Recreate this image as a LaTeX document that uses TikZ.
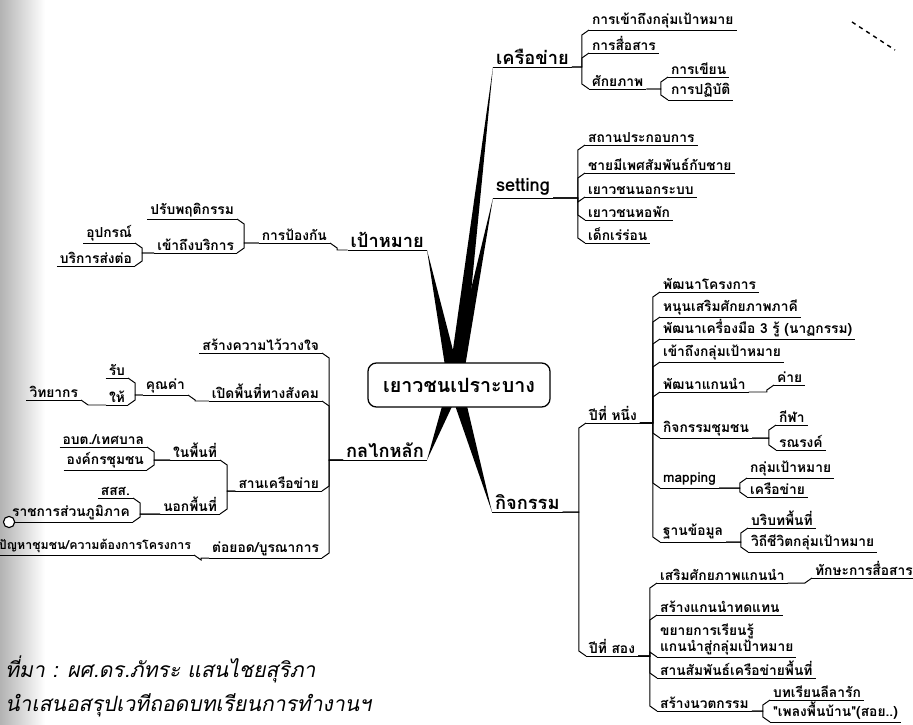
\documentclass[tikz,border=0pt]{standalone}
\usepackage{fontspec}
\newfontfamily\thai[Script=Thai]{Loma}
\newfontfamily\thaisl[Script=Thai,FakeSlant=0.2]{Loma}
\usetikzlibrary{calc}

\tikzset{
  ul/.style={draw,line width=0.7pt},
  lbl/.style={anchor=south west,inner xsep=2pt,inner ysep=1.5pt,
    font=\thai\bfseries\fontsize{9.8}{11}\selectfont,
    append after command={\pgfextra{\let\ulnode\tikzlastnode}
      (\ulnode.south west) edge[ul] (\ulnode.south east)}},
  lbll/.style={lbl,anchor=south east},
  main/.style={lbl,font=\thai\bfseries\fontsize{13}{15}\selectfont},
  mainl/.style={main,anchor=south east},
  spike/.style={fill=black},
  rootbox/.style={draw,line width=0.9pt,rounded corners=6pt,fill=white,
    minimum width=4.55cm,minimum height=1.1cm,
    font=\thai\bfseries\fontsize{14}{16}\selectfont},
  fold/.style={draw,circle,line width=0.8pt,inner sep=0pt,minimum size=8pt,fill=white,
    path picture={\fill (path picture bounding box.center) circle (1.2pt);}},
  link/.style={line width=0.7pt},
  caption/.style={anchor=base west,inner sep=0pt,font=\thaisl\fontsize{15}{17}\selectfont},
}

% right: parent end -> child start, left: parent start -> child end
\newcommand\linkr[2]{\draw[link] let \p1=(#1.south east), \p2=(#2.south west),
  \n1={sign(\y2-\y1)} in (\p1) -- (\x2-5pt,\y1) -- (\x2-5pt,\y2-3.5pt*\n1) -- (\p2);}
\newcommand\linkl[2]{\draw[link] let \p1=(#1.south west), \p2=(#2.south east),
  \n1={sign(\y2-\y1)} in (\p1) -- (\x2+5pt,\y1) -- (\x2+5pt,\y2-3.5pt*\n1) -- (\p2);}

\begin{document}
\begin{tikzpicture}[x=0.025cm,y=-0.025cm]
  \useasboundingbox (0,0) rectangle (913,724);
  \clip (0,0) rectangle (913,724);
  \shade[left color=black!30,right color=white] (0,0) rectangle (45,724);

  \coordinate (hub) at (455,385);

  % main branches
  \node[main](kruea) at(493,67) {เครือข่าย};
  \node[main](setg)  at(493,198) {setting};
  \node[main](act)   at(492,512) {กิจกรรม};
  \node[mainl](goal) at(427,250) {เป้าหมาย};
  \node[mainl](mech) at(427,460) {กลไกหลัก};

  % เครือข่าย
  \node[lbl](k1)  at(589,30)  {การเข้าถึงกลุ่มเป้าหมาย};
  \node[lbl](k2)  at(589,53)  {การสื่อสาร};
  \node[lbl](k3)  at(589,89)  {ศักยภาพ};
  \node[lbl](k31) at(668,77)  {การเขียน};
  \node[lbl](k32) at(668,100) {การปฏิบัติ};

  % setting
  \node[lbl](s1) at(585,145) {สถานประกอบการ};
  \node[lbl](s2) at(585,173) {ชายมีเพศสัมพันธ์กับชาย};
  \node[lbl](s3) at(585,197) {เยาวชนนอกระบบ};
  \node[lbl](s4) at(585,220) {เยาวชนหอพัก};
  \node[lbl](s5) at(585,243) {เด็กเร่ร่อน};

  % กิจกรรม
  \node[lbl](yr1) at(586,423) {ปีที่ หนึ่ง};
  \node[lbl](yr2) at(586,656) {ปีที่ สอง};

  \node[lbl](a1)  at(660,292) {พัฒนาโครงการ};
  \node[lbl](a2)  at(660,317) {หนุนเสริมศักยภาพภาคี};
  \node[lbl](a3)  at(660,339) {พัฒนาเครื่องมือ 3 รู้ (นาฏกรรม)};
  \node[lbl](a4)  at(660,362) {เข้าถึงกลุ่มเป้าหมาย};
  \node[lbl](a5)  at(660,392) {พัฒนาแกนนำ};
  \node[lbl](a51) at(774,385) {ค่าย};
  \node[lbl](a6)  at(660,438) {กิจกรรมชุมชน};
  \node[lbl](a61) at(776,425) {กีฬา};
  \node[lbl](a62) at(776,450) {รณรงค์};
  \node[lbl](a7)  at(660,488) {mapping};
  \node[lbl](a71) at(747,478) {กลุ่มเป้าหมาย};
  \node[lbl](a72) at(747,497) {เครือข่าย};
  \node[lbl](a8)  at(660,542) {ฐานข้อมูล};
  \node[lbl](a81) at(748,528) {บริบทพื้นที่};
  \node[lbl](a82) at(748,552) {วิถีชีวิตกลุ่มเป้าหมาย};

  \node[lbl](b1)  at(657,583) {เสริมศักยภาพแกนนำ};
  \node[lbl](b11) at(812,578) {ทักษะการสื่อสาร};
  \node[lbl](b2)  at(657,615) {สร้างแกนนำทดแทน};
  \node[lbl,align=left](b3) at(657,657) {ขยายการเรียนรู้\\แกนนำสู่กลุ่มเป้าหมาย};
  \node[lbl](b4)  at(657,678) {สานสัมพันธ์เครือข่ายพื้นที่};
  \node[lbl](b5)  at(657,711) {สร้างนวตกรรม};
  \node[lbl](b51) at(770,700) {บทเรียนลีลารัก};
  \node[lbl](b52) at(770,722) {"เพลงพื้นบ้าน"(สอย..)};

  % เป้าหมาย
  \node[lbll](g1)   at(330,243) {การป้องกัน};
  \node[lbll](g11)  at(237,219) {ปรับพฤติกรรม};
  \node[lbll](g12)  at(237,253) {เข้าถึงบริการ};
  \node[lbll](g121) at(135,243) {อุปกรณ์};
  \node[lbll](g122) at(135,266) {บริการส่งต่อ};

  % กลไกหลัก
  \node[lbll](m1)    at(322,353) {สร้างความไว้วางใจ};
  \node[lbll](m2)    at(322,401) {เปิดพื้นที่ทางสังคม};
  \node[lbll](m21)   at(188,395) {คุณค่า};
  \node[lbll](m211)  at(128,378) {รับ};
  \node[lbll](m212)  at(128,405) {ให้};
  \node[lbll](m2121) at(81,400)  {วิทยากร};
  \node[lbll](m3)    at(322,491) {สานเครือข่าย};
  \node[lbll](m31)   at(220,460) {ในพื้นที่};
  \node[lbll](m311)  at(147,447) {อบต./เทศบาล};
  \node[lbll](m312)  at(147,470) {องค์กรชุมชน};
  \node[lbll](m32)   at(220,514) {นอกพื้นที่};
  \node[lbll](m321)  at(133,498) {สสส.};
  \node[lbll](m322)  at(133,522) {ราชการส่วนภูมิภาค};
  \node[lbll](m4)    at(322,558) {ต่อยอด/บูรณาการ};
  \node[lbll,font=\thai\bfseries\fontsize{8.8}{10}\selectfont](m41) at(194,555)
    {ปัญหาชุมชน/ความต้องการโครงการ};
  \node[fold](mk) at(m322.south west) {};

  \foreach \pa/\ch in {kruea/k1,kruea/k2,kruea/k3,k3/k31,k3/k32,
    setg/s1,setg/s2,setg/s3,setg/s4,setg/s5,act/yr1,act/yr2,
    yr1/a1,yr1/a2,yr1/a3,yr1/a4,yr1/a5,yr1/a6,yr1/a7,yr1/a8,
    a5/a51,a6/a61,a6/a62,a7/a71,a7/a72,a8/a81,a8/a82,
    yr2/b1,yr2/b2,yr2/b3,yr2/b4,yr2/b5,b1/b11,b5/b51,b5/b52%
  }{
    \linkr{\pa}{\ch}
  }
  \foreach \pa/\ch in {goal/g1,g1/g11,g1/g12,g12/g121,g12/g122,
    mech/m1,mech/m2,mech/m3,mech/m4,m2/m21,m21/m211,m21/m212,m212/m2121,
    m3/m31,m3/m32,m31/m311,m31/m312,m32/m321,m32/m322,m4/m41%
  }{
    \linkl{\pa}{\ch}
  }

  % spikes to the main branches
  \foreach \n in {kruea,setg,act}{
    \fill[spike] ([xshift=-5pt]hub) -- (\n.south west) -- ([xshift=5pt]hub) -- cycle;
  }
  \foreach \n in {goal,mech}{
    \fill[spike] ([xshift=-5pt]hub) -- (\n.south east) -- ([xshift=5pt]hub) -- cycle;
  }
  \node[rootbox](root) at(459,385) {เยาวชนเปราะบาง};

  \draw[dashed,line width=1pt] (852,22) -- (895,50);

  \node[caption](src)  at(5,677) {ที่มา : ผศ.ดร.ภัทระ แสนไชยสุริภา};
  \node[caption](note) at(5,711) {นำเสนอสรุปเวทีถอดบทเรียนการทำงานฯ};
\end{tikzpicture}
\end{document}
